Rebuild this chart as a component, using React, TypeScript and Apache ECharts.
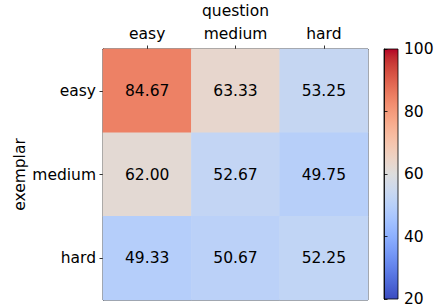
import React, { useEffect, useRef } from "react";
import * as echarts from "echarts";

const questionLevels = ["easy", "medium", "hard"];
const exemplarLevels = ["easy", "medium", "hard"];
// rows: exemplar, columns: question
const accuracy = [
  [84.67, 63.33, 53.25],
  [62.0, 52.67, 49.75],
  [49.33, 50.67, 52.25],
];
const colorbarTicks = [20, 40, 60, 80, 100];

const coolwarm = [
  [59, 76, 192], [68, 90, 204], [77, 104, 215], [87, 117, 225], [98, 130, 234],
  [108, 142, 241], [119, 154, 247], [130, 165, 251], [141, 176, 254], [152, 185, 255],
  [163, 194, 255], [174, 201, 253], [184, 208, 249], [194, 213, 244], [204, 217, 238],
  [213, 219, 230], [221, 221, 221], [229, 216, 209], [236, 211, 197], [241, 204, 185],
  [245, 196, 173], [247, 187, 160], [247, 177, 148], [247, 166, 135], [244, 154, 123],
  [241, 141, 111], [236, 127, 99], [229, 112, 88], [222, 96, 77], [213, 80, 66],
  [203, 62, 56], [192, 40, 47], [180, 4, 38],
].map(([r, g, b]) => `rgb(${r},${g},${b})`);

const FONT = "DejaVu Sans";
const FS = 15.5;

export default function App() {
  const ref = useRef<HTMLDivElement>(null);
  useEffect(() => {
    if (!ref.current) return;
    const chart = echarts.init(ref.current, undefined, { renderer: "svg" });
    const data: [number, number, number][] = [];
    accuracy.forEach((row, i) => row.forEach((v, j) => data.push([j, i, v])));
    const cmin = colorbarTicks[0];
    const cmax = colorbarTicks[colorbarTicks.length - 1];
    const gradient = new echarts.graphic.LinearGradient(
      0, 1, 0, 0,
      coolwarm.map((c, k) => ({ offset: k / (coolwarm.length - 1), color: c }))
    );
    const axisLine = { show: true, lineStyle: { color: "#000", width: 0.8 } };
    const axisTick = { show: true, length: 3.5, lineStyle: { color: "#000", width: 0.8 } };
    chart.setOption({
      animation: false,
      textStyle: { fontFamily: FONT },
      grid: [
        { left: 103, top: 49, width: 265, height: 251, show: true, borderColor: "#000", borderWidth: 0.8, backgroundColor: "transparent", outerBoundsMode: "none", containLabel: false },
        { left: 384, top: 49, width: 14, height: 250, show: true, borderColor: "#000", borderWidth: 0.8, backgroundColor: gradient, outerBoundsMode: "none", containLabel: false },
      ],
      xAxis: [
        {
          gridIndex: 0,
          type: "category",
          position: "top",
          data: questionLevels,
          name: "question",
          nameLocation: "middle",
          nameGap: 30,
          nameMoveOverlap: false,
          nameTextStyle: { fontSize: FS, color: "#000", fontFamily: FONT },
          axisLine,
          axisTick: { ...axisTick, alignWithLabel: true },
          axisLabel: { fontSize: FS, color: "#000", margin: 7, fontFamily: FONT },
          splitLine: { show: false },
        },
        { gridIndex: 1, type: "value", show: false, min: 0, max: 1 },
      ],
      yAxis: [
        {
          gridIndex: 0,
          type: "category",
          inverse: true,
          data: exemplarLevels,
          name: "exemplar",
          nameLocation: "middle",
          nameGap: 75,
          nameMoveOverlap: false,
          nameTextStyle: { fontSize: FS, color: "#000", fontFamily: FONT },
          axisLine,
          axisTick: { ...axisTick, alignWithLabel: true },
          axisLabel: { fontSize: FS, color: "#000", margin: 7, fontFamily: FONT },
          splitLine: { show: false },
        },
        {
          gridIndex: 1,
          type: "value",
          position: "right",
          min: cmin,
          max: cmax,
          interval: 20,
          axisLine,
          axisTick,
          axisLabel: { fontSize: FS, color: "#000", margin: 6, fontFamily: FONT },
          splitLine: { show: false },
        },
      ],
      visualMap: {
        show: false,
        type: "continuous",
        min: cmin,
        max: cmax,
        dimension: 2,
        seriesIndex: 0,
        inRange: { color: coolwarm },
      },
      series: [
        {
          type: "heatmap",
          xAxisIndex: 0,
          yAxisIndex: 0,
          data,
          label: {
            show: true,
            color: "#000",
            fontSize: FS,
            fontFamily: FONT,
            formatter: (p: any) => p.value[2].toFixed(2),
          },
          emphasis: { disabled: true },
        },
      ],
    });
    return () => chart.dispose();
  }, []);
  return <div ref={ref} style={{ width: 437, height: 308, position: "absolute", left: 0, top: 0 }} />;
}
